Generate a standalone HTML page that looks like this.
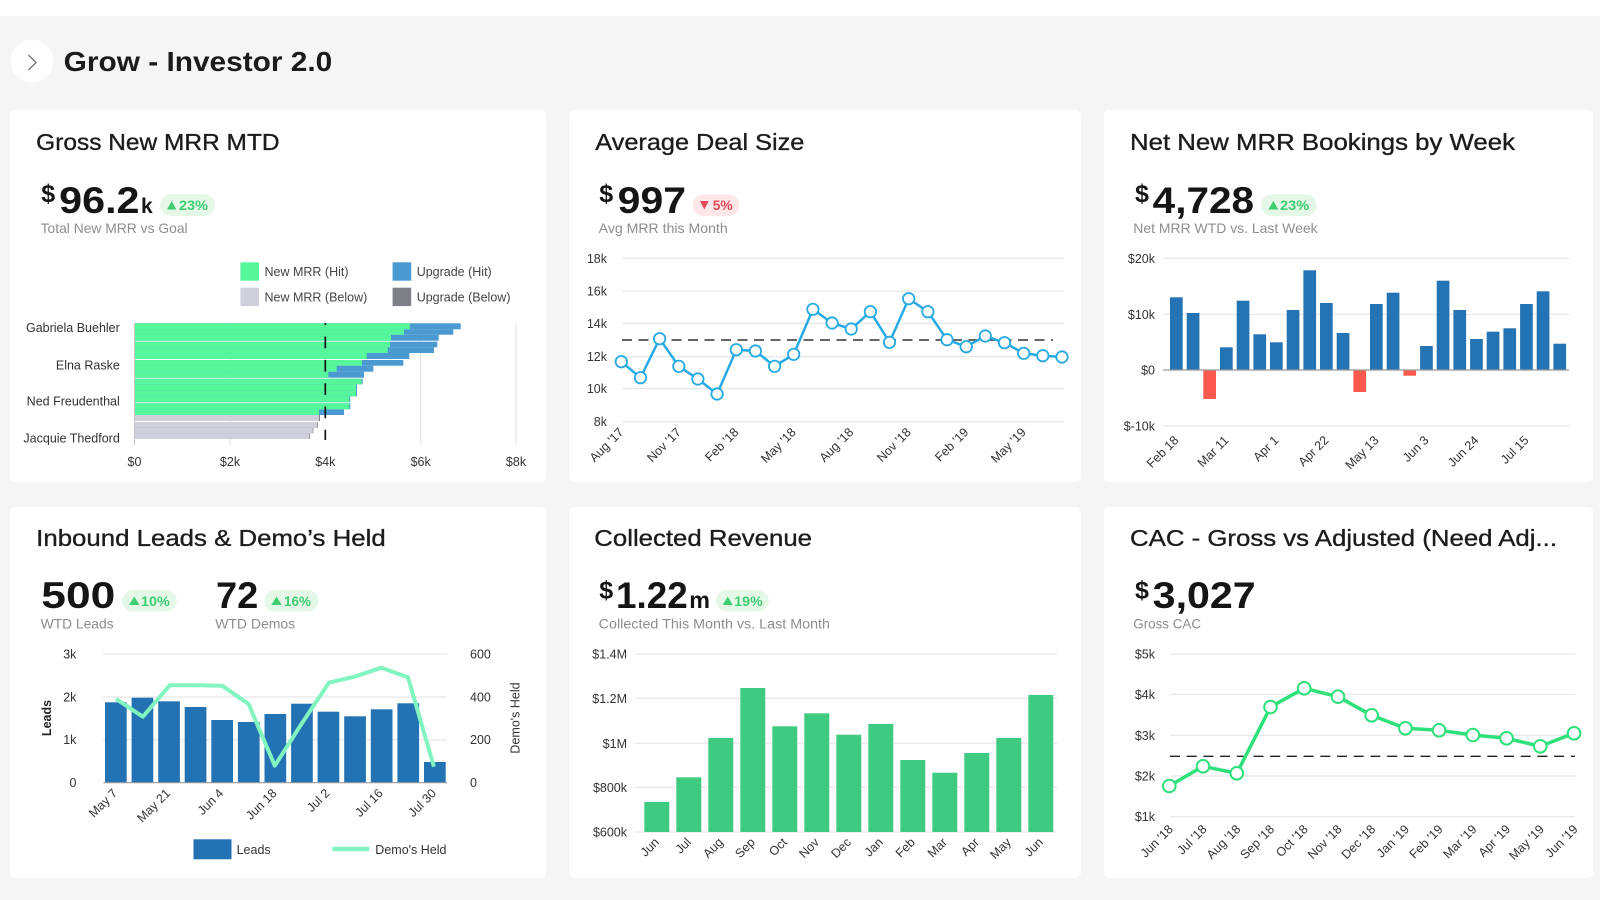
<!DOCTYPE html>
<html><head><meta charset="utf-8"><style>
html,body{margin:0;padding:0;background:#f5f5f5;width:1600px;height:900px;overflow:hidden}
svg{display:block}
text{font-family:"Liberation Sans",Arial,sans-serif}
.t{font-size:23px;fill:#1c1c1c;stroke:#1c1c1c;stroke-width:0.35}
.n{font-size:37px;font-weight:bold;fill:#151515}
.d{font-size:25px;font-weight:bold;fill:#151515}
.s{font-size:14px;fill:#8d8d8d}
.a{font-size:12.5px;fill:#333}
.bg{font-size:14px;font-weight:bold;fill:#3fcd72}
.br{font-size:14px;font-weight:bold;fill:#ea4a5c}
.g{stroke:#e0e0e0;stroke-width:1}
</style></head><body>
<svg width="1600" height="900" viewBox="0 0 1600 900" xmlns="http://www.w3.org/2000/svg">
<rect x="0" y="0" width="1600" height="900" fill="#f5f5f5"/>
<rect x="0" y="0" width="1600" height="16" fill="#ffffff"/>
<!-- header -->
<circle cx="32" cy="61" r="21.5" fill="#ffffff"/>
<polyline points="28.5,55 36,62.5 28.5,70" fill="none" stroke="#777" stroke-width="1.4"/>
<text x="63.7" y="71" font-size="28" font-weight="bold" fill="#1b1b1b" textLength="268.6" lengthAdjust="spacingAndGlyphs">Grow - Investor 2.0</text>

<!-- cards -->
<rect x="10" y="110" width="536" height="372" rx="5" fill="#fff"/>
<rect x="569.3" y="110" width="511.4" height="372" rx="5" fill="#fff"/>
<rect x="1104" y="110" width="489" height="372" rx="5" fill="#fff"/>
<rect x="10" y="507" width="536" height="371" rx="5" fill="#fff"/>
<rect x="569.3" y="507" width="511.4" height="371" rx="5" fill="#fff"/>
<rect x="1104" y="507" width="489" height="371" rx="5" fill="#fff"/>

<!-- ============ CARD 1 ============ -->
<text class="t" x="36.2" y="150" textLength="243.4" lengthAdjust="spacingAndGlyphs">Gross New MRR MTD</text>
<text class="d" x="41.3" y="202">$</text>
<text class="n" x="59.2" y="213" textLength="80.3" lengthAdjust="spacingAndGlyphs">96.2</text>
<text x="141" y="213" font-size="21" font-weight="bold" fill="#151515">k</text>
<rect x="160" y="194.3" width="55" height="21.7" rx="10.85" fill="#e5f8e8"/>
<polygon points="167,209.5 176.3,209.5 171.65,201" fill="#3fcd72"/>
<text class="bg" x="179" y="210" textLength="29" lengthAdjust="spacingAndGlyphs">23%</text>
<text class="s" x="40.6" y="233" textLength="147" lengthAdjust="spacingAndGlyphs">Total New MRR vs Goal</text>

<!-- legend -->
<rect x="240.4" y="262.3" width="18.6" height="18.4" fill="#55f79a"/>
<text x="264.5" y="276" font-size="12.5" fill="#444">New MRR (Hit)</text>
<rect x="240.4" y="287.7" width="18.6" height="18.4" fill="#d0d0dc"/>
<text x="264.5" y="301.5" font-size="12.5" fill="#444">New MRR (Below)</text>
<rect x="392.6" y="262.3" width="18.6" height="18.4" fill="#4a9ad1"/>
<text x="416.7" y="276" font-size="12.5" fill="#444">Upgrade (Hit)</text>
<rect x="392.6" y="287.7" width="18.6" height="18.4" fill="#7f7f87"/>
<text x="416.7" y="301.5" font-size="12.5" fill="#444">Upgrade (Below)</text>

<!-- grid -->
<line class="g" x1="230" y1="323" x2="230" y2="445"/>
<line class="g" x1="420.7" y1="323" x2="420.7" y2="445"/>
<line class="g" x1="516" y1="323" x2="516" y2="445"/>
<line x1="134.5" y1="323" x2="134.5" y2="445" stroke="#c4c4c4" stroke-width="1"/>
<!-- bars: blue then green -->
<g fill="#4a9ad1">
<rect x="134.5" y="323.3" width="326.2" height="6"/>
<rect x="134.5" y="329.3" width="318.8" height="5.4"/>
<rect x="134.5" y="334.7" width="304.2" height="6"/>
<rect x="134.5" y="341.7" width="302.8" height="5.6"/>
<rect x="134.5" y="347.3" width="299.5" height="5.7"/>
<rect x="134.5" y="353" width="274.8" height="6"/>
<rect x="134.5" y="360" width="268.8" height="5.7"/>
<rect x="134.5" y="365.7" width="238.8" height="6"/>
<rect x="134.5" y="371.7" width="229.5" height="6"/>
<rect x="134.5" y="378.7" width="228.2" height="5.6"/>
<rect x="134.5" y="384.3" width="222.5" height="6"/>
<rect x="134.5" y="390.3" width="222.5" height="6"/>
<rect x="134.5" y="396.3" width="215.8" height="6"/>
<rect x="134.5" y="403.3" width="215.8" height="6"/>
<rect x="134.5" y="409.3" width="209.5" height="5.7"/>
</g>
<g fill="#55f79a">
<rect x="134.5" y="323.3" width="275.5" height="6"/>
<rect x="134.5" y="329.3" width="269.5" height="5.4"/>
<rect x="134.5" y="334.7" width="256.5" height="6"/>
<rect x="134.5" y="341.7" width="255.5" height="5.6"/>
<rect x="134.5" y="347.3" width="253.2" height="5.7"/>
<rect x="134.5" y="353" width="232.2" height="6"/>
<rect x="134.5" y="360" width="227.5" height="5.7"/>
<rect x="134.5" y="365.7" width="202.2" height="6"/>
<rect x="134.5" y="371.7" width="193.8" height="6"/>
<rect x="134.5" y="378.7" width="227.2" height="5.6"/>
<rect x="134.5" y="384.3" width="221.5" height="6"/>
<rect x="134.5" y="390.3" width="221.5" height="6"/>
<rect x="134.5" y="396.3" width="214.8" height="6"/>
<rect x="134.5" y="403.3" width="214.8" height="6"/>
<rect x="134.5" y="409.3" width="184.5" height="5.7"/>
</g>
<g fill="#7f7f87">
<rect x="134.5" y="415" width="185.5" height="6"/>
<rect x="134.5" y="422" width="183.5" height="5.7"/>
<rect x="134.5" y="427.7" width="178.8" height="5.6"/>
<rect x="134.5" y="433.3" width="175.5" height="5.7"/>
</g>
<g fill="#d0d0dc">
<rect x="134.5" y="415" width="184.5" height="6"/>
<rect x="134.5" y="422" width="182.8" height="5.7"/>
<rect x="134.5" y="427.7" width="178.2" height="5.6"/>
<rect x="134.5" y="433.3" width="174.8" height="5.7"/>
</g>
<line x1="134.5" y1="323" x2="134.5" y2="445" stroke="#c4c4c4" stroke-width="1"/>
<line x1="325.3" y1="323.3" x2="325.3" y2="440" stroke="#111" stroke-width="1.7" stroke-dasharray="11.7 11.6" stroke-dashoffset="10"/>
<g class="a" text-anchor="end">
<text x="119.8" y="332">Gabriela Buehler</text>
<text x="119.8" y="369.3">Elna Raske</text>
<text x="119.8" y="405.3">Ned Freudenthal</text>
<text x="119.8" y="442.6">Jacquie Thedford</text>
</g>
<g class="a" text-anchor="middle">
<text x="134.5" y="466">$0</text>
<text x="230" y="466">$2k</text>
<text x="325.3" y="466">$4k</text>
<text x="420.7" y="466">$6k</text>
<text x="516" y="466">$8k</text>
</g>

<!-- ============ CARD 2 ============ -->
<text class="t" x="595.3" y="150" textLength="209" lengthAdjust="spacingAndGlyphs">Average Deal Size</text>
<text class="d" x="599.3" y="202">$</text>
<text class="n" x="617.7" y="213" textLength="68.3" lengthAdjust="spacingAndGlyphs">997</text>
<rect x="692.7" y="194.3" width="46.6" height="21.7" rx="10.85" fill="#fde7e9"/>
<polygon points="700,201 708.7,201 704.35,209.5" fill="#ea4a5c"/>
<text class="br" x="712.7" y="210" textLength="20" lengthAdjust="spacingAndGlyphs">5%</text>
<text class="s" x="598.7" y="233" textLength="129" lengthAdjust="spacingAndGlyphs">Avg MRR this Month</text>
<g class="g">
<line x1="622" y1="258.3" x2="1064" y2="258.3"/>
<line x1="622" y1="291" x2="1064" y2="291"/>
<line x1="622" y1="323.3" x2="1064" y2="323.3"/>
<line x1="622" y1="356.7" x2="1064" y2="356.7"/>
<line x1="622" y1="388.7" x2="1064" y2="388.7"/>
<line x1="622" y1="421.7" x2="1064" y2="421.7"/>
</g>
<g class="a" text-anchor="end">
<text x="607" y="262.8">18k</text>
<text x="607" y="295.5">16k</text>
<text x="607" y="327.8">14k</text>
<text x="607" y="361.2">12k</text>
<text x="607" y="393.2">10k</text>
<text x="607" y="426.2">8k</text>
</g>
<line x1="622" y1="340" x2="1053" y2="340" stroke="#333" stroke-width="1.4" stroke-dasharray="10 6.5"/>
<polyline fill="none" stroke="#27a9e1" stroke-width="2.5" stroke-linejoin="round" points="621.3,361.7 640.5,377.7 659.6,338.7 678.8,366.3 697.9,379 717.1,394 736.3,349.7 755.4,351 774.6,366.3 793.7,354.3 812.9,309.3 832.1,323 851.2,329 870.4,311.7 889.5,342.3 908.7,298.7 927.9,311.7 947,339.7 966.2,346.7 985.3,336 1004.5,342.7 1023.7,353.3 1042.8,355.7 1062,357"/>
<g fill="#fff" stroke="#27a9e1" stroke-width="1.8">
<circle cx="621.3" cy="361.7" r="5.7"/><circle cx="640.5" cy="377.7" r="5.7"/><circle cx="659.6" cy="338.7" r="5.7"/><circle cx="678.8" cy="366.3" r="5.7"/><circle cx="697.9" cy="379" r="5.7"/><circle cx="717.1" cy="394" r="5.7"/><circle cx="736.3" cy="349.7" r="5.7"/><circle cx="755.4" cy="351" r="5.7"/><circle cx="774.6" cy="366.3" r="5.7"/><circle cx="793.7" cy="354.3" r="5.7"/><circle cx="812.9" cy="309.3" r="5.7"/><circle cx="832.1" cy="323" r="5.7"/><circle cx="851.2" cy="329" r="5.7"/><circle cx="870.4" cy="311.7" r="5.7"/><circle cx="889.5" cy="342.3" r="5.7"/><circle cx="908.7" cy="298.7" r="5.7"/><circle cx="927.9" cy="311.7" r="5.7"/><circle cx="947" cy="339.7" r="5.7"/><circle cx="966.2" cy="346.7" r="5.7"/><circle cx="985.3" cy="336" r="5.7"/><circle cx="1004.5" cy="342.7" r="5.7"/><circle cx="1023.7" cy="353.3" r="5.7"/><circle cx="1042.8" cy="355.7" r="5.7"/><circle cx="1062" cy="357" r="5.7"/>
</g>
<g class="a" text-anchor="end">
<text transform="translate(624.3,433) rotate(-45)">Aug '17</text>
<text transform="translate(681.8,433) rotate(-45)">Nov '17</text>
<text transform="translate(739.3,433) rotate(-45)">Feb '18</text>
<text transform="translate(796.7,433) rotate(-45)">May '18</text>
<text transform="translate(854.2,433) rotate(-45)">Aug '18</text>
<text transform="translate(911.7,433) rotate(-45)">Nov '18</text>
<text transform="translate(969.2,433) rotate(-45)">Feb '19</text>
<text transform="translate(1026.7,433) rotate(-45)">May '19</text>
</g>

<!-- ============ CARD 3 ============ -->
<text class="t" x="1130" y="150" textLength="385" lengthAdjust="spacingAndGlyphs">Net New MRR Bookings by Week</text>
<text class="d" x="1135" y="202">$</text>
<text class="n" x="1152.7" y="213" textLength="101.3" lengthAdjust="spacingAndGlyphs">4,728</text>
<rect x="1261" y="194.3" width="55.7" height="21.7" rx="10.85" fill="#e5f8e8"/>
<polygon points="1268.3,209.5 1278.3,209.5 1273.3,201" fill="#3fcd72"/>
<text class="bg" x="1280" y="210" textLength="29.3" lengthAdjust="spacingAndGlyphs">23%</text>
<text class="s" x="1133.3" y="233" textLength="184.3" lengthAdjust="spacingAndGlyphs">Net MRR WTD vs. Last Week</text>
<g class="g">
<line x1="1163" y1="258.3" x2="1569" y2="258.3"/>
<line x1="1163" y1="314.3" x2="1569" y2="314.3"/>
<line x1="1163" y1="426" x2="1569" y2="426"/>
</g>
<g class="a" text-anchor="end">
<text x="1155" y="262.8">$20k</text>
<text x="1155" y="318.8">$10k</text>
<text x="1155" y="374.5">$0</text>
<text x="1155" y="430.5">$-10k</text>
</g>
<g fill="#2473b4">
<rect x="1170" y="297.3" width="12.7" height="72.7"/>
<rect x="1186.7" y="313" width="12.7" height="57"/>
<rect x="1220" y="347.3" width="12.7" height="22.7"/>
<rect x="1236.7" y="300.7" width="12.7" height="69.3"/>
<rect x="1253.4" y="334.3" width="12.7" height="35.7"/>
<rect x="1270" y="342.3" width="12.7" height="27.7"/>
<rect x="1286.7" y="310" width="12.7" height="60"/>
<rect x="1303.4" y="270.3" width="12.7" height="99.7"/>
<rect x="1320" y="303" width="12.7" height="67"/>
<rect x="1336.7" y="333" width="12.7" height="37"/>
<rect x="1370" y="304" width="12.7" height="66"/>
<rect x="1386.7" y="292.7" width="12.7" height="77.3"/>
<rect x="1420.1" y="346" width="12.7" height="24"/>
<rect x="1436.7" y="280.7" width="12.7" height="89.3"/>
<rect x="1453.4" y="310" width="12.7" height="60"/>
<rect x="1470.1" y="339" width="12.7" height="31"/>
<rect x="1486.7" y="331.7" width="12.7" height="38.3"/>
<rect x="1503.4" y="328.3" width="12.7" height="41.7"/>
<rect x="1520.1" y="304" width="12.7" height="66"/>
<rect x="1536.7" y="291.3" width="12.7" height="78.7"/>
<rect x="1553.4" y="343.7" width="12.7" height="26.3"/>
</g>
<g fill="#fb594e">
<rect x="1203.3" y="370" width="12.7" height="29"/>
<rect x="1353.4" y="370" width="12.7" height="22"/>
<rect x="1403.4" y="370" width="12.7" height="5.7"/>
</g>
<line x1="1163" y1="370" x2="1569" y2="370" stroke="#999" stroke-width="1.2"/>
<g class="a" text-anchor="end">
<text transform="translate(1179.3,441) rotate(-45)">Feb 18</text>
<text transform="translate(1229.4,441) rotate(-45)">Mar 11</text>
<text transform="translate(1279.4,441) rotate(-45)">Apr 1</text>
<text transform="translate(1329.4,441) rotate(-45)">Apr 22</text>
<text transform="translate(1379.4,441) rotate(-45)">May 13</text>
<text transform="translate(1429.4,441) rotate(-45)">Jun 3</text>
<text transform="translate(1479.4,441) rotate(-45)">Jun 24</text>
<text transform="translate(1529.4,441) rotate(-45)">Jul 15</text>
</g>

<!-- ============ CARD 4 ============ -->
<text class="t" x="36.2" y="546" textLength="349.5" lengthAdjust="spacingAndGlyphs">Inbound Leads &amp; Demo’s Held</text>
<text class="n" x="41.3" y="608" textLength="74" lengthAdjust="spacingAndGlyphs">500</text>
<rect x="122.2" y="590" width="54.5" height="21.5" rx="10.75" fill="#e5f8e8"/>
<polygon points="129,605 139.5,605 134.25,596.5" fill="#3fcd72"/>
<text class="bg" x="141" y="606" textLength="28.8" lengthAdjust="spacingAndGlyphs">10%</text>
<text class="n" x="216" y="608" textLength="42.3" lengthAdjust="spacingAndGlyphs">72</text>
<rect x="264.5" y="590" width="54" height="21.5" rx="10.75" fill="#e5f8e8"/>
<polygon points="271.3,605 281.7,605 276.5,596.5" fill="#3fcd72"/>
<text class="bg" x="284" y="606" textLength="27" lengthAdjust="spacingAndGlyphs">16%</text>
<text class="s" x="40.6" y="628.3" textLength="73" lengthAdjust="spacingAndGlyphs">WTD Leads</text>
<text class="s" x="215.2" y="628.3" textLength="80" lengthAdjust="spacingAndGlyphs">WTD Demos</text>
<g class="g">
<line x1="103.3" y1="654" x2="447" y2="654"/>
<line x1="103.3" y1="697" x2="447" y2="697"/>
<line x1="103.3" y1="739.7" x2="447" y2="739.7"/>
</g>
<g class="a" text-anchor="end">
<text x="76.4" y="658.5">3k</text>
<text x="76.4" y="701.5">2k</text>
<text x="76.4" y="744.2">1k</text>
<text x="76.4" y="787.2">0</text>
</g>
<g class="a">
<text x="470" y="658.5">600</text>
<text x="470" y="701.5">400</text>
<text x="470" y="744.2">200</text>
<text x="470" y="787.2">0</text>
</g>
<text transform="translate(51,718) rotate(-90)" text-anchor="middle" font-size="12.5" font-weight="bold" fill="#222">Leads</text>
<text transform="translate(519.3,718) rotate(-90)" text-anchor="middle" font-size="12.5" fill="#333">Demo's Held</text>
<g fill="#2372b3">
<rect x="105" y="702.3" width="21.7" height="80.4"/>
<rect x="131.6" y="697.7" width="21.7" height="85"/>
<rect x="158.2" y="701.3" width="21.7" height="81.4"/>
<rect x="184.7" y="707" width="21.7" height="75.7"/>
<rect x="211.3" y="720" width="21.7" height="62.7"/>
<rect x="237.9" y="722" width="21.7" height="60.7"/>
<rect x="264.5" y="714" width="21.7" height="68.7"/>
<rect x="291.1" y="703.7" width="21.7" height="79"/>
<rect x="317.6" y="711.7" width="21.7" height="71"/>
<rect x="344.2" y="716.3" width="21.7" height="66.4"/>
<rect x="370.8" y="709.3" width="21.7" height="73.4"/>
<rect x="397.4" y="703.3" width="21.7" height="79.4"/>
<rect x="424" y="762" width="21.7" height="20.7"/>
</g>
<line x1="103.3" y1="782.7" x2="447" y2="782.7" stroke="#999" stroke-width="1.2"/>
<polyline fill="none" stroke="#82f4c0" stroke-width="4" stroke-linejoin="round" points="116,699 142.9,716.7 169.8,685.3 196.3,685.3 222.1,685.7 248.6,704 274.8,765.7 302.3,722.7 328.9,682.7 354.7,676.7 381.2,667.7 408,677.3 433.9,766.7"/>
<g class="a" text-anchor="end">
<text transform="translate(118,794) rotate(-45)">May 7</text>
<text transform="translate(171.1,794) rotate(-45)">May 21</text>
<text transform="translate(224.2,794) rotate(-45)">Jun 4</text>
<text transform="translate(277.4,794) rotate(-45)">Jun 18</text>
<text transform="translate(330.5,794) rotate(-45)">Jul 2</text>
<text transform="translate(383.7,794) rotate(-45)">Jul 16</text>
<text transform="translate(436.9,794) rotate(-45)">Jul 30</text>
</g>
<rect x="193.5" y="839.3" width="38" height="20" fill="#2372b3"/>
<text x="236.6" y="853.8" font-size="12.5" fill="#333">Leads</text>
<line x1="332.3" y1="849" x2="369.2" y2="849" stroke="#82f4c0" stroke-width="4.5"/>
<text x="375.3" y="853.8" font-size="12.5" fill="#333">Demo's Held</text>

<!-- ============ CARD 5 ============ -->
<text class="t" x="594.3" y="546" textLength="217.7" lengthAdjust="spacingAndGlyphs">Collected Revenue</text>
<text class="d" x="599.3" y="598.5">$</text>
<text class="n" x="616" y="608" textLength="71.7" lengthAdjust="spacingAndGlyphs">1.22</text>
<text x="689.3" y="608" font-size="23" font-weight="bold" fill="#151515" textLength="20.7" lengthAdjust="spacingAndGlyphs">m</text>
<rect x="716" y="590" width="52.7" height="21.5" rx="10.75" fill="#e5f8e8"/>
<polygon points="722.7,605 732.7,605 727.7,596.5" fill="#3fcd72"/>
<text class="bg" x="734.3" y="606" textLength="28.4" lengthAdjust="spacingAndGlyphs">19%</text>
<text class="s" x="598.7" y="628.3" textLength="231.3" lengthAdjust="spacingAndGlyphs">Collected This Month vs. Last Month</text>
<g class="g">
<line x1="635.3" y1="654" x2="1056.7" y2="654"/>
<line x1="635.3" y1="698.3" x2="1056.7" y2="698.3"/>
<line x1="635.3" y1="743.3" x2="1056.7" y2="743.3"/>
<line x1="635.3" y1="787.3" x2="1056.7" y2="787.3"/>
<line x1="635.3" y1="832" x2="1056.7" y2="832"/>
</g>
<g class="a" text-anchor="end">
<text x="627" y="658.5">$1.4M</text>
<text x="627" y="702.8">$1.2M</text>
<text x="627" y="747.8">$1M</text>
<text x="627" y="791.8">$800k</text>
<text x="627" y="836.5">$600k</text>
</g>
<g fill="#3ecb81">
<rect x="644.3" y="802" width="25" height="30"/>
<rect x="676.3" y="777.3" width="25" height="54.7"/>
<rect x="708.3" y="738" width="25" height="94"/>
<rect x="740.3" y="688" width="25" height="144"/>
<rect x="772.3" y="726.3" width="25" height="105.7"/>
<rect x="804.3" y="713.3" width="25" height="118.7"/>
<rect x="836.3" y="734.7" width="25" height="97.3"/>
<rect x="868.3" y="724" width="25" height="108"/>
<rect x="900.3" y="760" width="25" height="72"/>
<rect x="932.3" y="772.7" width="25" height="59.3"/>
<rect x="964.3" y="753" width="25" height="79"/>
<rect x="996.3" y="738" width="25" height="94"/>
<rect x="1028.3" y="695" width="25" height="137"/>
</g>
<g class="a" text-anchor="end">
<text transform="translate(659.8,843) rotate(-45)">Jun</text>
<text transform="translate(691.8,843) rotate(-45)">Jul</text>
<text transform="translate(723.8,843) rotate(-45)">Aug</text>
<text transform="translate(755.8,843) rotate(-45)">Sep</text>
<text transform="translate(787.8,843) rotate(-45)">Oct</text>
<text transform="translate(819.8,843) rotate(-45)">Nov</text>
<text transform="translate(851.8,843) rotate(-45)">Dec</text>
<text transform="translate(883.8,843) rotate(-45)">Jan</text>
<text transform="translate(915.8,843) rotate(-45)">Feb</text>
<text transform="translate(947.8,843) rotate(-45)">Mar</text>
<text transform="translate(979.8,843) rotate(-45)">Apr</text>
<text transform="translate(1011.8,843) rotate(-45)">May</text>
<text transform="translate(1043.8,843) rotate(-45)">Jun</text>
</g>

<!-- ============ CARD 6 ============ -->
<text class="t" x="1130" y="546" textLength="427" lengthAdjust="spacingAndGlyphs">CAC - Gross vs Adjusted (Need Adj...</text>
<text class="d" x="1135" y="598.5">$</text>
<text class="n" x="1152.7" y="608" textLength="103" lengthAdjust="spacingAndGlyphs">3,027</text>
<text class="s" x="1133.3" y="628.3" textLength="67.7" lengthAdjust="spacingAndGlyphs">Gross CAC</text>
<g class="g">
<line x1="1170" y1="654" x2="1575" y2="654"/>
<line x1="1170" y1="694.3" x2="1575" y2="694.3"/>
<line x1="1170" y1="735.3" x2="1575" y2="735.3"/>
<line x1="1170" y1="776" x2="1575" y2="776"/>
<line x1="1170" y1="816.7" x2="1575" y2="816.7"/>
</g>
<g class="a" text-anchor="end">
<text x="1155" y="658.5">$5k</text>
<text x="1155" y="698.8">$4k</text>
<text x="1155" y="739.8">$3k</text>
<text x="1155" y="780.5">$2k</text>
<text x="1155" y="821.2">$1k</text>
</g>
<line x1="1170" y1="756.3" x2="1575" y2="756.3" stroke="#222" stroke-width="1.4" stroke-dasharray="10 6.7"/>
<polyline fill="none" stroke="#2de07a" stroke-width="3.5" stroke-linejoin="round" points="1169.3,786 1203,766.3 1236.8,773.3 1270.5,707 1304.2,688.3 1338,696.7 1371.7,715.3 1405.4,728.3 1439.1,730.3 1472.9,735 1506.6,738.3 1540.3,746.3 1574.1,733.3"/>
<g fill="#fff" stroke="#2de07a" stroke-width="2">
<circle cx="1169.3" cy="786" r="6.3"/><circle cx="1203" cy="766.3" r="6.3"/><circle cx="1236.8" cy="773.3" r="6.3"/><circle cx="1270.5" cy="707" r="6.3"/><circle cx="1304.2" cy="688.3" r="6.3"/><circle cx="1338" cy="696.7" r="6.3"/><circle cx="1371.7" cy="715.3" r="6.3"/><circle cx="1405.4" cy="728.3" r="6.3"/><circle cx="1439.1" cy="730.3" r="6.3"/><circle cx="1472.9" cy="735" r="6.3"/><circle cx="1506.6" cy="738.3" r="6.3"/><circle cx="1540.3" cy="746.3" r="6.3"/><circle cx="1574.1" cy="733.3" r="6.3"/>
</g>
<g class="a" text-anchor="end">
<text transform="translate(1173.8,830) rotate(-45)">Jun '18</text>
<text transform="translate(1207.5,830) rotate(-45)">Jul '18</text>
<text transform="translate(1241.3,830) rotate(-45)">Aug '18</text>
<text transform="translate(1275,830) rotate(-45)">Sep '18</text>
<text transform="translate(1308.7,830) rotate(-45)">Oct '18</text>
<text transform="translate(1342.5,830) rotate(-45)">Nov '18</text>
<text transform="translate(1376.2,830) rotate(-45)">Dec '18</text>
<text transform="translate(1409.9,830) rotate(-45)">Jan '19</text>
<text transform="translate(1443.6,830) rotate(-45)">Feb '19</text>
<text transform="translate(1477.4,830) rotate(-45)">Mar '19</text>
<text transform="translate(1511.1,830) rotate(-45)">Apr '19</text>
<text transform="translate(1544.8,830) rotate(-45)">May '19</text>
<text transform="translate(1578.6,830) rotate(-45)">Jun '19</text>
</g>
</svg>
</body></html>
